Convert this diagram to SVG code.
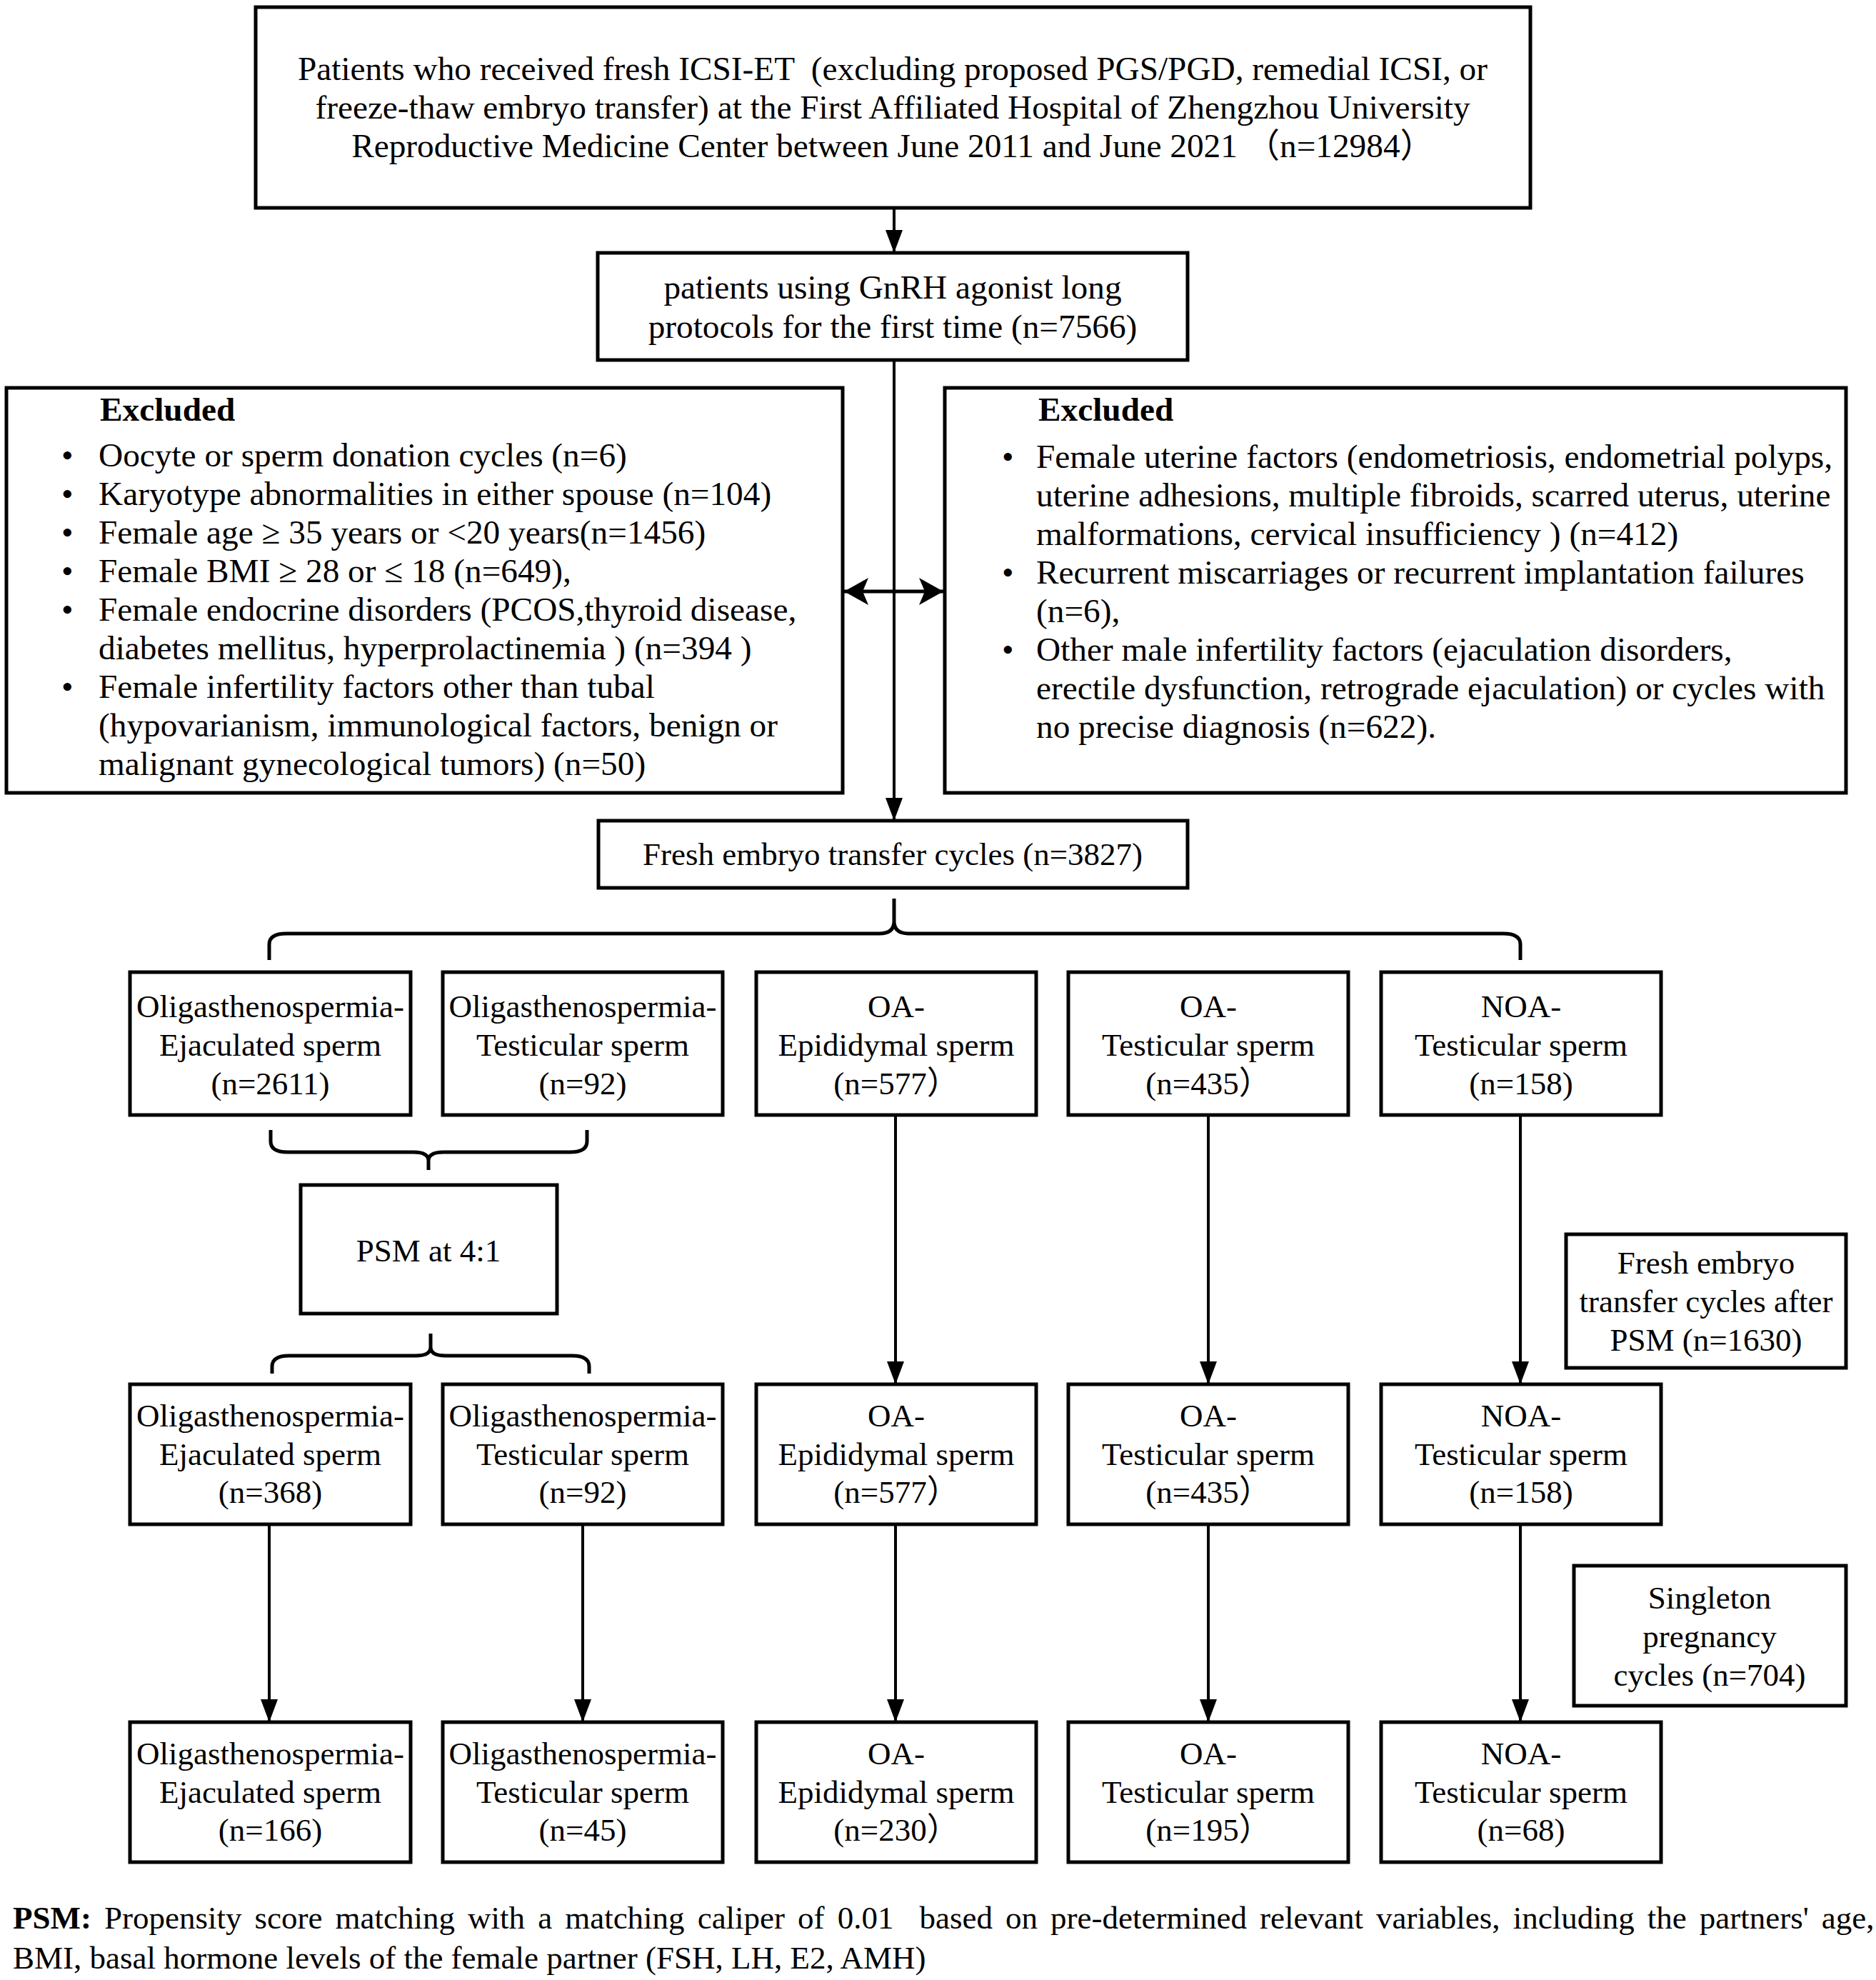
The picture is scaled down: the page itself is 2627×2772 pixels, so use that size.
<svg xmlns="http://www.w3.org/2000/svg" width="2627" height="2772" viewBox="0 0 2627 2772">
<style>
.box{fill:#fff;stroke:#000;stroke-width:5}
.t{font-family:"Liberation Serif","Times New Roman","Noto Sans CJK SC",serif;font-size:45px;fill:#000;white-space:pre}
.L{font-size:47.3px}
.c{text-anchor:middle}
.b{font-weight:bold}
.conn{stroke:#000;stroke-width:4;fill:none}
.dbl{stroke:#000;stroke-width:5;fill:none}
.brace{stroke:#000;stroke-width:5;fill:none}
</style>
<defs>
<marker id="ah" viewBox="0 0 32 24" refX="32" refY="12" markerWidth="32" markerHeight="24" markerUnits="userSpaceOnUse" orient="auto">
<path d="M0,0 L32,12 L0,24 Z" fill="#000"/>
</marker>
<marker id="st" viewBox="0 0 34 38" refX="34" refY="19" markerWidth="34" markerHeight="38" markerUnits="userSpaceOnUse" orient="auto-start-reverse">
<path d="M0,0 L34,19 L0,38 L8,19 Z" fill="#000"/>
</marker>
</defs>
<rect width="2627" height="2772" fill="#fff"/>

<g id="connectors">
<line class="conn" x1="1252" y1="291" x2="1252" y2="354" marker-end="url(#ah)"/>
<line class="conn" x1="1252" y1="504" x2="1252" y2="1149" marker-end="url(#ah)"/>
<line class="dbl" x1="1182" y1="828" x2="1321" y2="828" marker-start="url(#st)" marker-end="url(#st)"/>
<path class="brace" d="M377 1344 V1322 Q377 1307 401 1307 H1231 Q1252 1307 1252 1290 V1258 M1252 1290 Q1252 1307 1273 1307 H2105 Q2129 1307 2129 1322 V1344"/>
<path class="brace" d="M379 1582 V1598 Q379 1613 403 1613 H579 Q600 1613 600 1625 V1638 M600 1625 Q600 1613 621 1613 H798 Q822 1613 822 1598 V1582"/>
<path class="brace" d="M381 1923 V1913 Q381 1898 405 1898 H582 Q603 1898 603 1886 V1867 M603 1886 Q603 1898 624 1898 H801 Q825 1898 825 1913 V1923"/>
<line class="conn" x1="1254" y1="1561" x2="1254" y2="1938" marker-end="url(#ah)"/>
<line class="conn" x1="1692" y1="1561" x2="1692" y2="1938" marker-end="url(#ah)"/>
<line class="conn" x1="2129" y1="1561" x2="2129" y2="1938" marker-end="url(#ah)"/>
<line class="conn" x1="377" y1="2134" x2="377" y2="2411" marker-end="url(#ah)"/>
<line class="conn" x1="816" y1="2134" x2="816" y2="2411" marker-end="url(#ah)"/>
<line class="conn" x1="1254" y1="2134" x2="1254" y2="2411" marker-end="url(#ah)"/>
<line class="conn" x1="1692" y1="2134" x2="1692" y2="2411" marker-end="url(#ah)"/>
<line class="conn" x1="2129" y1="2134" x2="2129" y2="2411" marker-end="url(#ah)"/>
</g>

<g id="n-top">
<rect class="box" x="358" y="10" width="1785" height="281"/>
<text class="t L c" x="1250" y="112">Patients who received fresh ICSI-ET  (excluding proposed PGS/PGD, remedial ICSI, or</text>
<text class="t L c" x="1250" y="166">freeze-thaw embryo transfer) at the First Affiliated Hospital of Zhengzhou University</text>
<text class="t L c" x="1250" y="220">Reproductive Medicine Center between June 2011 and June 2021 （n=12984）</text>
</g>

<g id="n-gnrh">
<rect class="box" x="837" y="354" width="826" height="150"/>
<text class="t L c" x="1250" y="418">patients using GnRH agonist long</text>
<text class="t L c" x="1250" y="473">protocols for the first time (n=7566)</text>
</g>

<g id="n-excl-left">
<rect class="box" x="9" y="543" width="1171" height="567"/>
<text class="t L b" x="140" y="589">Excluded</text>
<text class="t L" x="86" y="653">•</text>
<text class="t L" x="138" y="653">Oocyte or sperm donation cycles (n=6)</text>
<text class="t L" x="86" y="707">•</text>
<text class="t L" x="138" y="707">Karyotype abnormalities in either spouse (n=104)</text>
<text class="t L" x="86" y="761">•</text>
<text class="t L" x="138" y="761">Female age ≥ 35 years or &lt;20 years(n=1456)</text>
<text class="t L" x="86" y="815">•</text>
<text class="t L" x="138" y="815">Female BMI ≥ 28 or ≤ 18 (n=649),</text>
<text class="t L" x="86" y="869">•</text>
<text class="t L" x="138" y="869">Female endocrine disorders (PCOS,thyroid disease,</text>
<text class="t L" x="138" y="923">diabetes mellitus, hyperprolactinemia ) (n=394 )</text>
<text class="t L" x="86" y="977">•</text>
<text class="t L" x="138" y="977">Female infertility factors other than tubal</text>
<text class="t L" x="138" y="1031">(hypovarianism, immunological factors, benign or</text>
<text class="t L" x="138" y="1085">malignant gynecological tumors) (n=50)</text>
</g>

<g id="n-excl-right">
<rect class="box" x="1323" y="543" width="1262" height="567"/>
<text class="t L b" x="1454" y="589">Excluded</text>
<text class="t L" x="1403" y="655">•</text>
<text class="t L" x="1451" y="655">Female uterine factors (endometriosis, endometrial polyps,</text>
<text class="t L" x="1451" y="709">uterine adhesions, multiple fibroids, scarred uterus, uterine</text>
<text class="t L" x="1451" y="763">malformations, cervical insufficiency ) (n=412)</text>
<text class="t L" x="1403" y="817">•</text>
<text class="t L" x="1451" y="817">Recurrent miscarriages or recurrent implantation failures</text>
<text class="t L" x="1451" y="871">(n=6),</text>
<text class="t L" x="1403" y="925">•</text>
<text class="t L" x="1451" y="925">Other male infertility factors (ejaculation disorders,</text>
<text class="t L" x="1451" y="979">erectile dysfunction, retrograde ejaculation) or cycles with</text>
<text class="t L" x="1451" y="1033">no precise diagnosis (n=622).</text>
</g>

<g id="n-fresh">
<rect class="box" x="838" y="1149" width="825" height="94"/>
<text class="t c" x="1250" y="1211">Fresh embryo transfer cycles (n=3827)</text>
</g>

<g id="n-r1-1">
<rect class="box" x="182" y="1361" width="393" height="200"/>
<text class="t c" x="378.5" y="1424">Oligasthenospermia-</text>
<text class="t c" x="378.5" y="1478">Ejaculated sperm</text>
<text class="t c" x="378.5" y="1532">(n=2611)</text>
</g>
<g id="n-r1-2">
<rect class="box" x="620" y="1361" width="392" height="200"/>
<text class="t c" x="816" y="1424">Oligasthenospermia-</text>
<text class="t c" x="816" y="1478">Testicular sperm</text>
<text class="t c" x="816" y="1532">(n=92)</text>
</g>
<g id="n-r1-3">
<rect class="box" x="1059" y="1361" width="392" height="200"/>
<text class="t c" x="1255" y="1424">OA-</text>
<text class="t c" x="1255" y="1478">Epididymal sperm</text>
<text class="t c" x="1255" y="1532">(n=577）</text>
</g>
<g id="n-r1-4">
<rect class="box" x="1496" y="1361" width="392" height="200"/>
<text class="t c" x="1692" y="1424">OA-</text>
<text class="t c" x="1692" y="1478">Testicular sperm</text>
<text class="t c" x="1692" y="1532">(n=435）</text>
</g>
<g id="n-r1-5">
<rect class="box" x="1934" y="1361" width="392" height="200"/>
<text class="t c" x="2130" y="1424">NOA-</text>
<text class="t c" x="2130" y="1478">Testicular sperm</text>
<text class="t c" x="2130" y="1532">(n=158)</text>
</g>

<g id="n-psm">
<rect class="box" x="421" y="1659" width="359" height="180"/>
<text class="t c" x="600" y="1766">PSM at 4:1</text>
</g>

<g id="n-after-psm">
<rect class="box" x="2193" y="1728" width="392" height="187"/>
<text class="t c" x="2389" y="1783">Fresh embryo</text>
<text class="t c" x="2389" y="1837">transfer cycles after</text>
<text class="t c" x="2389" y="1891">PSM (n=1630)</text>
</g>

<g id="n-r2-1">
<rect class="box" x="182" y="1938" width="393" height="196"/>
<text class="t c" x="378.5" y="1997">Oligasthenospermia-</text>
<text class="t c" x="378.5" y="2051">Ejaculated sperm</text>
<text class="t c" x="378.5" y="2104">(n=368)</text>
</g>
<g id="n-r2-2">
<rect class="box" x="620" y="1938" width="392" height="196"/>
<text class="t c" x="816" y="1997">Oligasthenospermia-</text>
<text class="t c" x="816" y="2051">Testicular sperm</text>
<text class="t c" x="816" y="2104">(n=92)</text>
</g>
<g id="n-r2-3">
<rect class="box" x="1059" y="1938" width="392" height="196"/>
<text class="t c" x="1255" y="1997">OA-</text>
<text class="t c" x="1255" y="2051">Epididymal sperm</text>
<text class="t c" x="1255" y="2104">(n=577）</text>
</g>
<g id="n-r2-4">
<rect class="box" x="1496" y="1938" width="392" height="196"/>
<text class="t c" x="1692" y="1997">OA-</text>
<text class="t c" x="1692" y="2051">Testicular sperm</text>
<text class="t c" x="1692" y="2104">(n=435）</text>
</g>
<g id="n-r2-5">
<rect class="box" x="1934" y="1938" width="392" height="196"/>
<text class="t c" x="2130" y="1997">NOA-</text>
<text class="t c" x="2130" y="2051">Testicular sperm</text>
<text class="t c" x="2130" y="2104">(n=158)</text>
</g>

<g id="n-singleton">
<rect class="box" x="2204" y="2192" width="381" height="196"/>
<text class="t c" x="2394" y="2252">Singleton</text>
<text class="t c" x="2394" y="2306">pregnancy</text>
<text class="t c" x="2394" y="2360">cycles (n=704)</text>
</g>

<g id="n-r3-1">
<rect class="box" x="182" y="2411" width="393" height="196"/>
<text class="t c" x="378.5" y="2470">Oligasthenospermia-</text>
<text class="t c" x="378.5" y="2524">Ejaculated sperm</text>
<text class="t c" x="378.5" y="2577">(n=166)</text>
</g>
<g id="n-r3-2">
<rect class="box" x="620" y="2411" width="392" height="196"/>
<text class="t c" x="816" y="2470">Oligasthenospermia-</text>
<text class="t c" x="816" y="2524">Testicular sperm</text>
<text class="t c" x="816" y="2577">(n=45)</text>
</g>
<g id="n-r3-3">
<rect class="box" x="1059" y="2411" width="392" height="196"/>
<text class="t c" x="1255" y="2470">OA-</text>
<text class="t c" x="1255" y="2524">Epididymal sperm</text>
<text class="t c" x="1255" y="2577">(n=230）</text>
</g>
<g id="n-r3-4">
<rect class="box" x="1496" y="2411" width="392" height="196"/>
<text class="t c" x="1692" y="2470">OA-</text>
<text class="t c" x="1692" y="2524">Testicular sperm</text>
<text class="t c" x="1692" y="2577">(n=195）</text>
</g>
<g id="n-r3-5">
<rect class="box" x="1934" y="2411" width="392" height="196"/>
<text class="t c" x="2130" y="2470">NOA-</text>
<text class="t c" x="2130" y="2524">Testicular sperm</text>
<text class="t c" x="2130" y="2577">(n=68)</text>
</g>

<g id="footnote">
<text class="t" x="18" y="2700" style="word-spacing:6.8px"><tspan class="b">PSM:</tspan> Propensity score matching with a matching caliper of 0.01  based on pre-determined relevant variables, including the partners' age,</text>
<text class="t" x="18" y="2756">BMI, basal hormone levels of the female partner (FSH, LH, E2, AMH)</text>
</g>
</svg>
